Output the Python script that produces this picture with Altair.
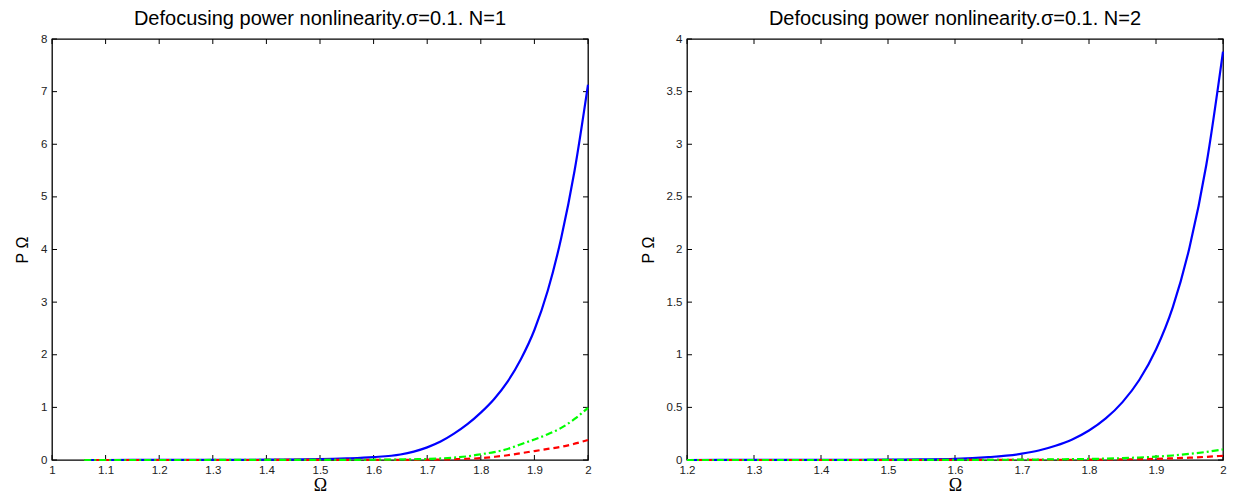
import altair as alt
import pandas as pd

# ---------------- data ----------------
left_omega = [1.06, 1.1, 1.2, 1.3, 1.4, 1.5, 1.55, 1.6, 1.65, 1.675, 1.7, 1.725, 1.75, 1.775, 1.8,
              1.825, 1.85, 1.875, 1.9, 1.925, 1.95, 1.975, 2.0]
left_blue  = [0.0, 0.0002, 0.001, 0.002, 0.006, 0.015, 0.03, 0.055, 0.105, 0.16, 0.24, 0.35, 0.5, 0.68, 0.9,
              1.16, 1.49, 1.92, 2.47, 3.22, 4.22, 5.5, 7.13]
left_green = [0.0, 0.0, 0.0, 0.0005, 0.001, 0.002, 0.003, 0.005, 0.01, 0.014, 0.02, 0.03, 0.045, 0.07, 0.11,
              0.15, 0.21, 0.30, 0.39, 0.49, 0.61, 0.78, 0.99]
left_red   = [0.0, 0.0, 0.0, 0.0, 0.0005, 0.001, 0.0015, 0.002, 0.003, 0.004, 0.006, 0.01, 0.015, 0.024, 0.035,
              0.06, 0.09, 0.13, 0.17, 0.21, 0.25, 0.31, 0.38]

right_omega = [1.2, 1.3, 1.4, 1.5, 1.55, 1.6, 1.65, 1.7, 1.725, 1.75, 1.775, 1.8, 1.825, 1.85,
               1.875, 1.9, 1.925, 1.95, 1.975, 2.0]
right_blue  = [0.0, 0.0005, 0.001, 0.003, 0.005, 0.01, 0.027, 0.06, 0.09, 0.135, 0.195, 0.28, 0.395, 0.55,
               0.76, 1.05, 1.45, 2.02, 2.8, 3.88]
right_green = [0.0, 0.0, 0.0, 0.0005, 0.001, 0.001, 0.002, 0.003, 0.004, 0.006, 0.008, 0.01, 0.013, 0.018,
               0.024, 0.032, 0.043, 0.058, 0.077, 0.10]
right_red   = [0.0, 0.0, 0.0, 0.0, 0.0, 0.0005, 0.001, 0.001, 0.0015, 0.002, 0.0025, 0.003, 0.004, 0.006,
               0.008, 0.011, 0.016, 0.022, 0.03, 0.04]

left_xticks = [1.0, 1.1, 1.2, 1.3, 1.4, 1.5, 1.6, 1.7, 1.8, 1.9, 2.0]
left_yticks = [0, 1, 2, 3, 4, 5, 6, 7, 8]
right_xticks = [1.2, 1.3, 1.4, 1.5, 1.6, 1.7, 1.8, 1.9, 2.0]
right_yticks = [0, 0.5, 1, 1.5, 2, 2.5, 3, 3.5, 4]

titles = ["Defocusing power nonlinearity.\u03c3=0.1. N=1",
          "Defocusing power nonlinearity.\u03c3=0.1. N=2"]

W, H = 536, 421
TICK = 5


def panel(omega, blue, green, red, xdom, ydom, xticks, yticks, title):
    xs = alt.Scale(domain=xdom, nice=False, zero=False)
    ys = alt.Scale(domain=ydom, nice=False, zero=False)
    xaxis = alt.Axis(values=xticks, format=".1~f", ticks=False, domain=False, grid=False,
                     labelPadding=4, labelFontSize=11.5, labelFont="Liberation Sans",
                     labelColor="#222", title="\u03a9", titleFont="Liberation Serif",
                     titleFontSize=18, titleFontWeight="normal", titlePadding=1,
                     titleColor="#000", labelFlush=False)
    yaxis = alt.Axis(values=yticks, format=".1~f", ticks=False, domain=False, grid=False,
                     labelPadding=5, labelFontSize=11.5, labelFont="Liberation Sans",
                     labelColor="#222", title="P  \u03a9", titleFont="Liberation Sans",
                     titleFontSize=16, titleFontWeight="normal", titlePadding=10,
                     titleColor="#000", labelFlush=False)

    df_b = pd.DataFrame({"omega": omega, "P": blue})
    df_g = pd.DataFrame({"omega": omega, "P": green})
    df_r = pd.DataFrame({"omega": omega, "P": red})

    lb = alt.Chart(df_b).mark_line(color="#0000ff", strokeWidth=2.2, interpolate="monotone").encode(
        x=alt.X("omega:Q", scale=xs, axis=xaxis),
        y=alt.Y("P:Q", scale=ys, axis=yaxis))
    lr = alt.Chart(df_r).mark_line(color="#ff0000", strokeWidth=2.2, strokeDash=[6, 4],
                                   interpolate="monotone").encode(
        x=alt.X("omega:Q", scale=xs), y=alt.Y("P:Q", scale=ys))
    lg = alt.Chart(df_g).mark_line(color="#00ff00", strokeWidth=2.2, strokeDash=[7, 3, 2, 3],
                                   interpolate="monotone").encode(
        x=alt.X("omega:Q", scale=xs), y=alt.Y("P:Q", scale=ys))

    xt = pd.DataFrame({"t": xticks})
    yt = pd.DataFrame({"t": yticks})
    tick_style = dict(color="#000", strokeWidth=1)
    tb = alt.Chart(xt).mark_rule(**tick_style).encode(
        x=alt.X("t:Q", scale=xs), y=alt.value(H), y2=alt.value(H - TICK))
    tt = alt.Chart(xt).mark_rule(**tick_style).encode(
        x=alt.X("t:Q", scale=xs), y=alt.value(0), y2=alt.value(TICK))
    tl = alt.Chart(yt).mark_rule(**tick_style).encode(
        y=alt.Y("t:Q", scale=ys), x=alt.value(0), x2=alt.value(TICK))
    tr = alt.Chart(yt).mark_rule(**tick_style).encode(
        y=alt.Y("t:Q", scale=ys), x=alt.value(W - TICK), x2=alt.value(W))

    return alt.layer(tb, tt, tl, tr, lb, lr, lg).properties(
        width=W, height=H,
        title=alt.TitleParams(title, fontSize=20, font="Liberation Sans", fontWeight="normal",
                              color="#000", anchor="middle", offset=4))


left = panel(left_omega, left_blue, left_green, left_red, [1.0, 2.0], [0, 8],
             left_xticks, left_yticks, titles[0])
right = panel(right_omega, right_blue, right_green, right_red, [1.2, 2.0], [0, 4],
              right_xticks, right_yticks, titles[1])

chart = alt.hconcat(left, right, spacing=99, bounds="flush").properties(
    padding={"left": 5, "right": 0, "top": 0, "bottom": 0}
).configure(background="white").configure_view(stroke="#000", strokeWidth=1.3)

chart.save("out.html", embed_options={"renderer": "svg", "actions": False})
